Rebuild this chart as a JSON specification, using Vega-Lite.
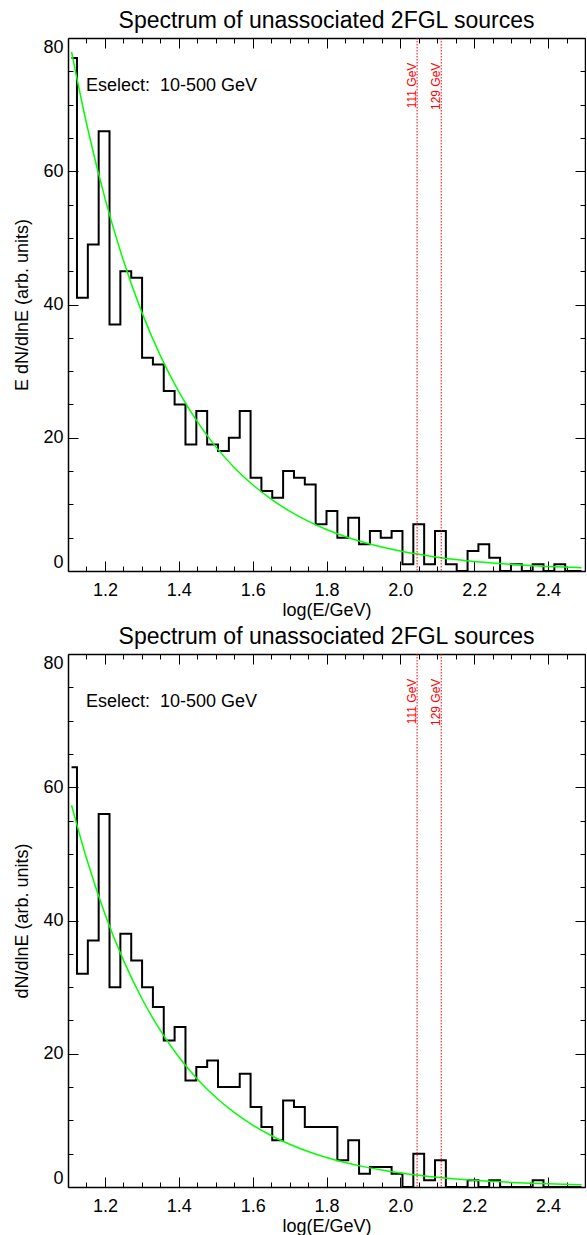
{
  "$schema": "https://vega.github.io/schema/vega-lite/v6.json",
  "padding": {"left": 13, "top": 9, "right": 0, "bottom": 0},
  "bounds": "flush",
  "spacing": 83,
  "config": {
    "font": "Liberation Sans",
    "view": {"stroke": null},
    "axis": {
      "grid": false,
      "labelFont": "Liberation Sans",
      "labelFontSize": 18,
      "labelColor": "#000000",
      "titleFont": "Liberation Sans",
      "titleFontSize": 18,
      "titleFontWeight": "normal",
      "titleColor": "#000000",
      "domainColor": "#000000",
      "domainWidth": 1.5,
      "tickColor": "#000000",
      "tickWidth": 1
    },
    "title": {
      "font": "Liberation Sans",
      "fontSize": 23,
      "fontWeight": "normal",
      "color": "#000000",
      "anchor": "middle",
      "baseline": "alphabetic",
      "offset": 5
    }
  },
  "datasets": {
    "histTop": [
      {"logE": 1.1096, "value": 77}, {"logE": 1.1390, "value": 41}, {"logE": 1.1684, "value": 49},
      {"logE": 1.1977, "value": 66}, {"logE": 1.2271, "value": 37}, {"logE": 1.2565, "value": 45},
      {"logE": 1.2859, "value": 44}, {"logE": 1.3153, "value": 32}, {"logE": 1.3446, "value": 31},
      {"logE": 1.3740, "value": 27}, {"logE": 1.4034, "value": 25}, {"logE": 1.4328, "value": 19},
      {"logE": 1.4622, "value": 24}, {"logE": 1.4915, "value": 19}, {"logE": 1.5209, "value": 18},
      {"logE": 1.5503, "value": 20}, {"logE": 1.5797, "value": 24}, {"logE": 1.6091, "value": 14},
      {"logE": 1.6384, "value": 12}, {"logE": 1.6678, "value": 11}, {"logE": 1.6972, "value": 15},
      {"logE": 1.7266, "value": 14}, {"logE": 1.7560, "value": 13}, {"logE": 1.7853, "value": 7},
      {"logE": 1.8147, "value": 9}, {"logE": 1.8441, "value": 5}, {"logE": 1.8735, "value": 8},
      {"logE": 1.9029, "value": 4}, {"logE": 1.9322, "value": 6}, {"logE": 1.9616, "value": 5},
      {"logE": 1.9910, "value": 6}, {"logE": 2.0204, "value": 1}, {"logE": 2.0498, "value": 7},
      {"logE": 2.0791, "value": 1}, {"logE": 2.1085, "value": 6}, {"logE": 2.1379, "value": 1},
      {"logE": 2.1673, "value": 0}, {"logE": 2.1967, "value": 3}, {"logE": 2.2260, "value": 4},
      {"logE": 2.2554, "value": 2}, {"logE": 2.2848, "value": 0}, {"logE": 2.3142, "value": 1},
      {"logE": 2.3436, "value": 0}, {"logE": 2.3729, "value": 1}, {"logE": 2.4023, "value": 0},
      {"logE": 2.4317, "value": 1}, {"logE": 2.4611, "value": 0}, {"logE": 2.4905, "value": 0}
    ],
    "histBottom": [
      {"logE": 1.1096, "value": 63}, {"logE": 1.1390, "value": 32}, {"logE": 1.1684, "value": 37},
      {"logE": 1.1977, "value": 56}, {"logE": 1.2271, "value": 30}, {"logE": 1.2565, "value": 38},
      {"logE": 1.2859, "value": 34}, {"logE": 1.3153, "value": 30}, {"logE": 1.3446, "value": 27},
      {"logE": 1.3740, "value": 22}, {"logE": 1.4034, "value": 24}, {"logE": 1.4328, "value": 16},
      {"logE": 1.4622, "value": 18}, {"logE": 1.4915, "value": 19}, {"logE": 1.5209, "value": 15},
      {"logE": 1.5503, "value": 15}, {"logE": 1.5797, "value": 17}, {"logE": 1.6091, "value": 12},
      {"logE": 1.6384, "value": 9}, {"logE": 1.6678, "value": 7}, {"logE": 1.6972, "value": 13},
      {"logE": 1.7266, "value": 12}, {"logE": 1.7560, "value": 9}, {"logE": 1.7853, "value": 9},
      {"logE": 1.8147, "value": 9}, {"logE": 1.8441, "value": 4}, {"logE": 1.8735, "value": 7},
      {"logE": 1.9029, "value": 2}, {"logE": 1.9322, "value": 3}, {"logE": 1.9616, "value": 3},
      {"logE": 1.9910, "value": 2}, {"logE": 2.0204, "value": 0}, {"logE": 2.0498, "value": 5},
      {"logE": 2.0791, "value": 1}, {"logE": 2.1085, "value": 4}, {"logE": 2.1379, "value": 0},
      {"logE": 2.1673, "value": 0}, {"logE": 2.1967, "value": 1}, {"logE": 2.2260, "value": 0},
      {"logE": 2.2554, "value": 1}, {"logE": 2.2848, "value": 0}, {"logE": 2.3142, "value": 0},
      {"logE": 2.3436, "value": 0}, {"logE": 2.3729, "value": 1}, {"logE": 2.4023, "value": 0},
      {"logE": 2.4317, "value": 0}, {"logE": 2.4611, "value": 0}, {"logE": 2.4905, "value": 0}
    ],
    "fitTop": [
      {"logE": 1.1096, "value": 77.9}, {"logE": 1.15, "value": 67.21}, {"logE": 1.2, "value": 55.97},
      {"logE": 1.25, "value": 46.6}, {"logE": 1.3, "value": 38.82}, {"logE": 1.35, "value": 32.33},
      {"logE": 1.4, "value": 26.93}, {"logE": 1.45, "value": 22.42}, {"logE": 1.5, "value": 18.67},
      {"logE": 1.55, "value": 15.55}, {"logE": 1.6, "value": 12.95}, {"logE": 1.65, "value": 10.79},
      {"logE": 1.7, "value": 8.98}, {"logE": 1.75, "value": 7.48}, {"logE": 1.8, "value": 6.23},
      {"logE": 1.85, "value": 5.19}, {"logE": 1.9, "value": 4.32}, {"logE": 1.95, "value": 3.6},
      {"logE": 2.0, "value": 3.0}, {"logE": 2.05, "value": 2.5}, {"logE": 2.1, "value": 2.08},
      {"logE": 2.15, "value": 1.73}, {"logE": 2.2, "value": 1.44}, {"logE": 2.25, "value": 1.2},
      {"logE": 2.3, "value": 1.0}, {"logE": 2.35, "value": 0.83}, {"logE": 2.4, "value": 0.69},
      {"logE": 2.45, "value": 0.58}, {"logE": 2.4905, "value": 0.5}
    ],
    "fitBottom": [
      {"logE": 1.1096, "value": 57.3}, {"logE": 1.15, "value": 49.34}, {"logE": 1.2, "value": 40.99},
      {"logE": 1.25, "value": 34.05}, {"logE": 1.3, "value": 28.29}, {"logE": 1.35, "value": 23.5},
      {"logE": 1.4, "value": 19.52}, {"logE": 1.45, "value": 16.22}, {"logE": 1.5, "value": 13.48},
      {"logE": 1.55, "value": 11.2}, {"logE": 1.6, "value": 9.3}, {"logE": 1.65, "value": 7.73},
      {"logE": 1.7, "value": 6.42}, {"logE": 1.75, "value": 5.34}, {"logE": 1.8, "value": 4.43},
      {"logE": 1.85, "value": 3.68}, {"logE": 1.9, "value": 3.06}, {"logE": 1.95, "value": 2.54},
      {"logE": 2.0, "value": 2.11}, {"logE": 2.05, "value": 1.75}, {"logE": 2.1, "value": 1.46},
      {"logE": 2.15, "value": 1.21}, {"logE": 2.2, "value": 1.01}, {"logE": 2.25, "value": 0.84},
      {"logE": 2.3, "value": 0.69}, {"logE": 2.35, "value": 0.58}, {"logE": 2.4, "value": 0.48},
      {"logE": 2.45, "value": 0.4}, {"logE": 2.4905, "value": 0.34}
    ],
    "lines": [
      {"energy": 111, "logE": 2.0453, "label": "111 GeV"},
      {"energy": 129, "logE": 2.1106, "label": "129 GeV"}
    ],
    "note": [
      {"logE": 1.1486, "value": 72, "label": "Eselect:\u00a0 10-500 GeV"}
    ]
  },
  "vconcat": [
    {
      "title": "Spectrum of unassociated 2FGL sources",
      "width": 517,
      "height": 533,
      "resolve": {"axis": {"x": "independent", "y": "independent"}},
      "layer": [
        {
          "data": {"name": "histTop"},
          "mark": {"type": "line", "interpolate": "step", "color": "#000000", "strokeWidth": 2, "clip": true},
          "encoding": {
            "x": {"field": "logE", "type": "quantitative", "scale": {"domain": [1.1, 2.5], "nice": false, "zero": false},
                  "axis": {"orient": "bottom", "values": [1.2, 1.4, 1.6, 1.8, 2.0, 2.2, 2.4], "format": ".1f", "tickSize": -10, "labelPadding": 20, "title": "log(E/GeV)", "titlePadding": 2}},
            "y": {"field": "value", "type": "quantitative", "scale": {"domain": [0, 80], "nice": false},
                  "axis": {"orient": "left", "values": [0, 20, 40, 60, 80], "tickSize": -10, "labelPadding": 15, "labelFlush": true, "labelFlushOffset": 0, "title": "E dN/dlnE (arb. units)", "titlePadding": 11}}
          }
        },
        {
          "data": {"name": "fitTop"},
          "mark": {"type": "line", "interpolate": "monotone", "color": "#00ff00", "strokeWidth": 1.5, "clip": true},
          "encoding": {
            "x": {"field": "logE", "type": "quantitative",
                  "axis": {"orient": "bottom", "values": [1.15, 1.25, 1.3, 1.35, 1.45, 1.5, 1.55, 1.65, 1.7, 1.75, 1.85, 1.9, 1.95, 2.05, 2.1, 2.15, 2.25, 2.3, 2.35, 2.45], "tickSize": -5, "labels": false, "domain": false, "title": null}},
            "y": {"field": "value", "type": "quantitative",
                  "axis": {"orient": "left", "values": [5, 10, 15, 25, 30, 35, 45, 50, 55, 65, 70, 75], "tickSize": -5, "labels": false, "domain": false, "title": null}}
          }
        },
        {
          "data": {"name": "lines"},
          "mark": {"type": "rule", "color": "#ff0000", "strokeWidth": 1, "strokeDash": [1.5, 1.5]},
          "encoding": {
            "x": {"field": "logE", "type": "quantitative",
                  "axis": {"orient": "top", "values": [1.2, 1.4, 1.6, 1.8, 2.0, 2.2, 2.4], "tickSize": -10, "labels": false, "title": null}}
          }
        },
        {
          "data": {"name": "lines"},
          "mark": {"type": "text", "color": "#ff0000", "fontSize": 12, "angle": 270, "align": "right", "baseline": "alphabetic", "dy": -1},
          "encoding": {
            "x": {"field": "logE", "type": "quantitative",
                  "axis": {"orient": "top", "values": [1.15, 1.25, 1.3, 1.35, 1.45, 1.5, 1.55, 1.65, 1.7, 1.75, 1.85, 1.9, 1.95, 2.05, 2.1, 2.15, 2.25, 2.3, 2.35, 2.45], "tickSize": -5, "labels": false, "domain": false, "title": null}},
            "y": {"datum": 76.3, "type": "quantitative",
                  "axis": {"orient": "right", "values": [0, 20, 40, 60, 80], "tickSize": -10, "labels": false, "title": null}},
            "text": {"field": "label"}
          }
        },
        {
          "data": {"name": "note"},
          "mark": {"type": "text", "color": "#000000", "fontSize": 18, "align": "left", "baseline": "alphabetic"},
          "encoding": {
            "x": {"field": "logE", "type": "quantitative", "axis": null},
            "y": {"field": "value", "type": "quantitative",
                  "axis": {"orient": "right", "values": [5, 10, 15, 25, 30, 35, 45, 50, 55, 65, 70, 75], "tickSize": -5, "labels": false, "domain": false, "title": null}},
            "text": {"field": "label"}
          }
        }
      ]
    },
    {
      "title": "Spectrum of unassociated 2FGL sources",
      "width": 517,
      "height": 533,
      "resolve": {"axis": {"x": "independent", "y": "independent"}},
      "layer": [
        {
          "data": {"name": "histBottom"},
          "mark": {"type": "line", "interpolate": "step", "color": "#000000", "strokeWidth": 2, "clip": true},
          "encoding": {
            "x": {"field": "logE", "type": "quantitative", "scale": {"domain": [1.1, 2.5], "nice": false, "zero": false},
                  "axis": {"orient": "bottom", "values": [1.2, 1.4, 1.6, 1.8, 2.0, 2.2, 2.4], "format": ".1f", "tickSize": -10, "labelPadding": 20, "title": "log(E/GeV)", "titlePadding": 2}},
            "y": {"field": "value", "type": "quantitative", "scale": {"domain": [0, 80], "nice": false},
                  "axis": {"orient": "left", "values": [0, 20, 40, 60, 80], "tickSize": -10, "labelPadding": 15, "labelFlush": true, "labelFlushOffset": 0, "title": "dN/dlnE (arb. units)", "titlePadding": 11}}
          }
        },
        {
          "data": {"name": "fitBottom"},
          "mark": {"type": "line", "interpolate": "monotone", "color": "#00ff00", "strokeWidth": 1.5, "clip": true},
          "encoding": {
            "x": {"field": "logE", "type": "quantitative",
                  "axis": {"orient": "bottom", "values": [1.15, 1.25, 1.3, 1.35, 1.45, 1.5, 1.55, 1.65, 1.7, 1.75, 1.85, 1.9, 1.95, 2.05, 2.1, 2.15, 2.25, 2.3, 2.35, 2.45], "tickSize": -5, "labels": false, "domain": false, "title": null}},
            "y": {"field": "value", "type": "quantitative",
                  "axis": {"orient": "left", "values": [5, 10, 15, 25, 30, 35, 45, 50, 55, 65, 70, 75], "tickSize": -5, "labels": false, "domain": false, "title": null}}
          }
        },
        {
          "data": {"name": "lines"},
          "mark": {"type": "rule", "color": "#ff0000", "strokeWidth": 1, "strokeDash": [1.5, 1.5]},
          "encoding": {
            "x": {"field": "logE", "type": "quantitative",
                  "axis": {"orient": "top", "values": [1.2, 1.4, 1.6, 1.8, 2.0, 2.2, 2.4], "tickSize": -10, "labels": false, "title": null}}
          }
        },
        {
          "data": {"name": "lines"},
          "mark": {"type": "text", "color": "#ff0000", "fontSize": 12, "angle": 270, "align": "right", "baseline": "alphabetic", "dy": -1},
          "encoding": {
            "x": {"field": "logE", "type": "quantitative",
                  "axis": {"orient": "top", "values": [1.15, 1.25, 1.3, 1.35, 1.45, 1.5, 1.55, 1.65, 1.7, 1.75, 1.85, 1.9, 1.95, 2.05, 2.1, 2.15, 2.25, 2.3, 2.35, 2.45], "tickSize": -5, "labels": false, "domain": false, "title": null}},
            "y": {"datum": 76.3, "type": "quantitative",
                  "axis": {"orient": "right", "values": [0, 20, 40, 60, 80], "tickSize": -10, "labels": false, "title": null}},
            "text": {"field": "label"}
          }
        },
        {
          "data": {"name": "note"},
          "mark": {"type": "text", "color": "#000000", "fontSize": 18, "align": "left", "baseline": "alphabetic"},
          "encoding": {
            "x": {"field": "logE", "type": "quantitative", "axis": null},
            "y": {"field": "value", "type": "quantitative",
                  "axis": {"orient": "right", "values": [5, 10, 15, 25, 30, 35, 45, 50, 55, 65, 70, 75], "tickSize": -5, "labels": false, "domain": false, "title": null}},
            "text": {"field": "label"}
          }
        }
      ]
    }
  ]
}
